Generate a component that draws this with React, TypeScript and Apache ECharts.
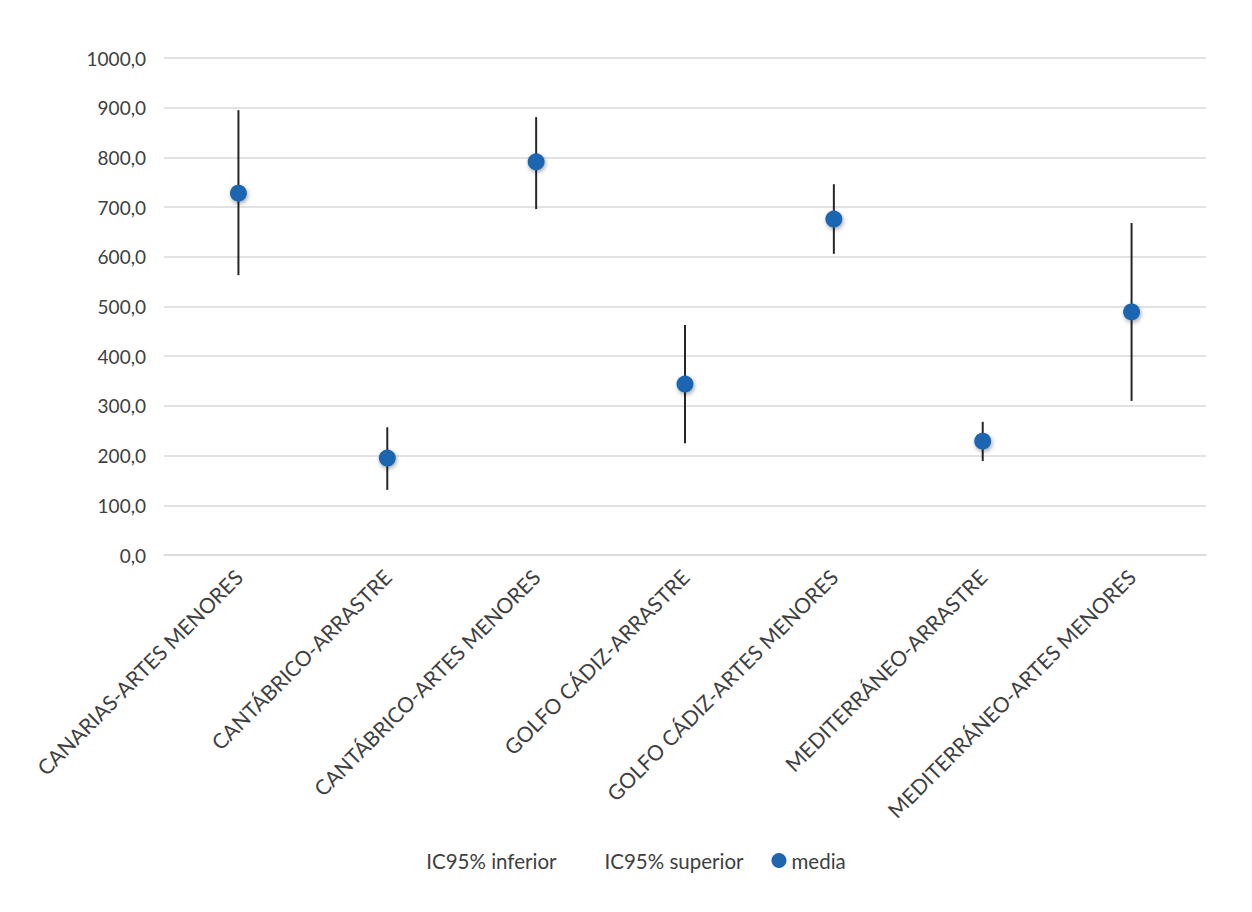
import React, { useEffect, useRef } from "react";
import * as echarts from "echarts";

const categories = [
  "CANARIAS-ARTES MENORES",
  "CANTÁBRICO-ARRASTRE",
  "CANTÁBRICO-ARTES MENORES",
  "GOLFO CÁDIZ-ARRASTRE",
  "GOLFO CÁDIZ-ARTES MENORES",
  "MEDITERRÁNEO-ARRASTRE",
  "MEDITERRÁNEO-ARTES MENORES",
];
const lower = [563, 131, 696, 225, 606, 189, 310];
const upper = [895, 257, 881, 463, 746, 268, 668];
const media = [728, 195, 791, 344, 676, 229, 489];

const FONT = "Lato, 'Open Sans', sans-serif";

export default function App() {
  const ref = useRef<HTMLDivElement>(null);
  useEffect(() => {
    const chart = echarts.init(ref.current!, null, { renderer: "svg" });
    chart.setOption({
      animation: false,
      backgroundColor: "#ffffff",
      textStyle: { fontFamily: FONT },
      grid: { left: 156, right: 38, top: 50, bottom: 349, containLabel: false },
      legend: {
        bottom: 28,
        left: "center",
        itemGap: 28,
        itemWidth: 15,
        itemHeight: 15,
        textStyle: { fontSize: 20.5, color: "#404040", fontFamily: FONT },
        data: [
          { name: "IC95% inferior", icon: "rect", itemStyle: { opacity: 0 } },
          { name: "IC95% superior", icon: "rect", itemStyle: { opacity: 0 } },
          { name: "media", icon: "circle" },
        ],
      },
      xAxis: {
        type: "category",
        data: categories,
        boundaryGap: true,
        axisLine: { show: true, lineStyle: { color: "#d9d9d9", width: 1.5 } },
        axisTick: { show: false },
        axisLabel: {
          rotate: 45,
          interval: 0,
          fontSize: 21,
          color: "#404040",
          margin: 18,
          fontFamily: FONT,
        },
      },
      yAxis: {
        type: "value",
        min: 0,
        max: 1000,
        interval: 100,
        axisLine: { show: false },
        axisTick: { show: false },
        splitLine: { lineStyle: { color: "#d9d9d9", width: 1.5 } },
        axisLabel: {
          fontSize: 19,
          color: "#404040",
          margin: 18,
          fontFamily: FONT,
          formatter: (v: number) => v.toFixed(1).replace(".", ","),
        },
      },
      series: [
        {
          name: "IC95% inferior",
          type: "line",
          data: lower,
          symbol: "none",
          lineStyle: { width: 0, opacity: 0 },
          itemStyle: { opacity: 0 },
        },
        {
          name: "IC95% superior",
          type: "line",
          data: upper,
          symbol: "none",
          lineStyle: { width: 0, opacity: 0 },
          itemStyle: { opacity: 0 },
        },
        {
          name: "hilo",
          type: "custom",
          data: categories.map((_, i) => [i, lower[i], upper[i]]),
          encode: { x: 0, y: [1, 2] },
          renderItem: (params: any, api: any) => {
            const i = api.value(0);
            const p1 = api.coord([i, api.value(1)]);
            const p2 = api.coord([i, api.value(2)]);
            return {
              type: "line",
              shape: { x1: p1[0], y1: p1[1], x2: p2[0], y2: p2[1] },
              style: { stroke: "#262626", lineWidth: 2 },
            };
          },
          z: 2,
        },
        {
          name: "media",
          type: "scatter",
          data: media,
          symbol: "circle",
          symbolSize: 17,
          itemStyle: {
            color: "#1f66b1",
            opacity: 1,
            shadowColor: "rgba(0,0,0,0.35)",
            shadowBlur: 4,
            shadowOffsetX: 1,
            shadowOffsetY: 2,
          },
          z: 5,
        },
      ],
    });
    return () => chart.dispose();
  }, []);
  return <div ref={ref} style={{ width: 1236, height: 896 }} />;
}
